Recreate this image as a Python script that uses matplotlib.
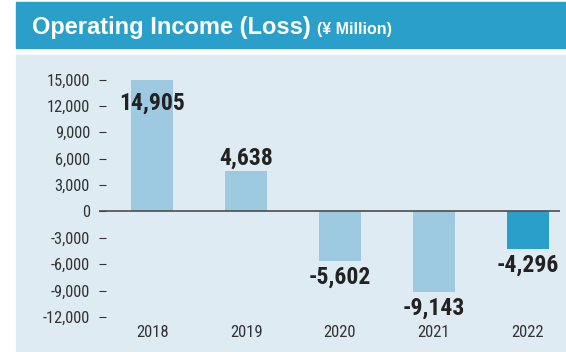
import matplotlib.pyplot as plt
from matplotlib import font_manager
from matplotlib.patches import Rectangle

years = ["2018", "2019", "2020", "2021", "2022"]
income = [14905, 4638, -5602, -9143, -4296]
value_labels = ["14,905", "4,638", "-5,602", "-9,143", "-4,296"]
y_ticks = [15000, 12000, 9000, 6000, 3000, 0, -3000, -6000, -9000, -12000]
y_tick_labels = ["15,000", "12,000", "9,000", "6,000", "3,000", "0",
                 "-3,000", "-6,000", "-9,000", "-12,000"]

HEADER = "#2a9fca"
PANEL = "#deebf3"
BAR_LIGHT = "#9ecae1"
BAR_DARK = "#2a9fca"
TEXT = "#222222"

# prefer a condensed face for the numbers if one is installed
entries = font_manager.fontManager.ttflist
narrow_fam, narrow_stretch = "Liberation Sans", "normal"
for f in entries:
    if f.name in ("Liberation Sans Narrow", "Roboto Condensed", "Open Sans Condensed"):
        narrow_fam, narrow_stretch = f.name, "normal"
        break
else:
    for f in entries:
        if f.name in ("DejaVu Sans", "Noto Sans", "Open Sans", "Roboto") and \
                str(f.stretch) in ("condensed", "semi-condensed", "75", "87"):
            narrow_fam, narrow_stretch = f.name, f.stretch
            break
NARROW = dict(family=narrow_fam, fontstretch=narrow_stretch)

fig = plt.figure(figsize=(5.66, 3.52), dpi=100)
W, H = 566, 352

# background axes holding the header band and the light panel (pixel coords)
bg = fig.add_axes([0, 0, 1, 1], zorder=-1)
bg.set_xlim(0, W)
bg.set_ylim(H, 0)
bg.axis("off")
bg.add_patch(Rectangle((16, 2), W - 16, 46, color=HEADER))
bg.add_patch(Rectangle((16, 55), W - 16, H - 55, color=PANEL))
bg.text(31.5, 34.3, "Operating Income (Loss)", color="white",
        fontsize=17, fontweight="bold", family="Liberation Sans", va="baseline")
bg.text(317, 34.3, "(¥ Million)", color="white",
        fontsize=11.5, fontweight="bold", family="Liberation Sans", va="baseline")

ax = fig.add_axes([99 / W, 1 - 317 / H, (560 - 99) / W, (317 - 79.5) / H])
ax.patch.set_visible(False)
x = list(range(len(years)))
colors = [BAR_LIGHT] * (len(years) - 1) + [BAR_DARK]
ax.bar(x, income, width=0.448, color=colors, zorder=2)
ax.axhline(0, color="#4d4d4d", lw=1.2, zorder=3)

ax.set_xlim(-0.569, 4.346)
ax.set_ylim(-12000, 15000)
for s in ax.spines.values():
    s.set_visible(False)

ax.set_yticks(y_ticks)
ax.set_yticklabels(y_tick_labels, fontsize=11.8, color="#333333", **NARROW)
ax.tick_params(axis="y", direction="in", length=5, width=0.8, color="#333333", pad=6.5)
ax.set_xticks(x)
ax.set_xticklabels(years, fontsize=12, color="#333333", **NARROW)
ax.tick_params(axis="x", length=0, pad=6)

# value labels: above positive bars, below negative ones, inside the tall one
for xi, v, lab in zip(x, income, value_labels):
    if v > 12000:
        dy = -21
    elif v > 0:
        dy = 4
    else:
        dy = -16.5
    ax.annotate(lab, (xi, v), xytext=(0, dy), textcoords="offset points",
                ha="center", va="baseline", fontsize=17, fontweight="bold",
                color=TEXT, zorder=4, annotation_clip=False, **NARROW)

fig.savefig("out.png", dpi=100)
